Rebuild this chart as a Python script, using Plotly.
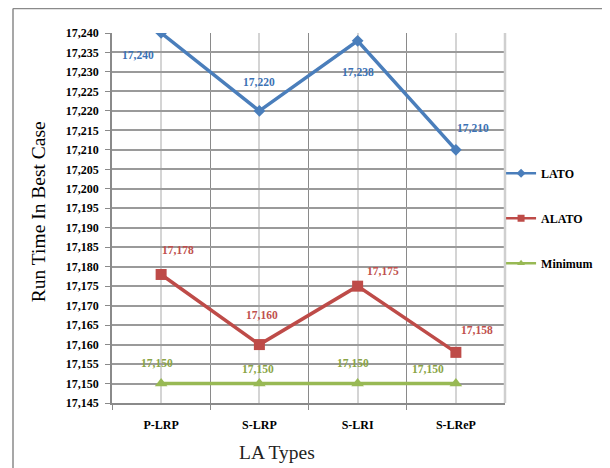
import plotly.graph_objects as go

categories = ["P-LRP", "S-LRP", "S-LRI", "S-LReP"]
lato = [17240, 17220, 17238, 17210]
alato = [17178, 17160, 17175, 17158]
minimum = [17150, 17150, 17150, 17150]
y_ticks = list(range(17145, 17241, 5))
x_title = "LA Types"
y_title = "Run Time In Best Case"

# label offsets in pixels (style only)
lato_off = [(-23, -22), (0, 29), (0, -31), (17, 22)]
alato_off = [(17, 24), (3, 30), (25, 15), (21, 22)]
min_off = [(-4, 21), (-1, 15), (-5, 21), (-28, 15)]

x = list(range(len(categories)))
FONT = "Liberation Serif"

fig = go.Figure()
series = [
    ("LATO", lato, "#4A7EBB", "diamond", 9, "#3C72B5", lato_off),
    ("ALATO", alato, "#BE4B48", "square", 11, "#C0504D", alato_off),
    ("Minimum", minimum, "#98B954", "triangle-up", 11, "#8AA445", min_off),
]
for name, vals, col, sym, ms, lcol, offs in series:
    fig.add_trace(go.Scatter(
        x=x, y=vals, name=name, mode="lines+markers", showlegend=False,
        line=dict(color=col, width=3.5),
        marker=dict(symbol=sym, size=ms, color=col),
    ))
    # legend entry with smaller symbol
    fig.add_trace(go.Scatter(
        x=[None], y=[None], name=name, mode="lines+markers",
        legendgroup=name, showlegend=True,
        line=dict(color=col, width=2.5),
        marker=dict(symbol=sym, size=7, color=col),
    ))
    for xi, v, (dx, dy) in zip(x, vals, offs):
        fig.add_annotation(
            x=xi, y=v, text=f"{v:,}", showarrow=False,
            xshift=dx, yshift=dy,
            font=dict(family=FONT, size=11.5, color=lcol, weight="bold"),
        )

# axis titles (placed as in the reference)
fig.add_annotation(
    xref="paper", yref="paper", x=0.42, y=-0.135, text=x_title,
    showarrow=False, xanchor="center", yanchor="middle",
    font=dict(family=FONT, size=19.5, color="#222"),
)
fig.add_annotation(
    xref="paper", yref="paper", x=-0.188, y=0.516, text=y_title,
    showarrow=False, xanchor="center", yanchor="middle", textangle=-90,
    font=dict(family=FONT, size=19.5, color="black"),
)

fig.update_layout(
    width=610, height=468,
    margin=dict(l=104, r=113, t=25, b=73, autoexpand=False),
    paper_bgcolor="white", plot_bgcolor="white",
    font=dict(family=FONT, color="black"),
    showlegend=True,
    legend=dict(
        x=0.99, y=0.66, xanchor="left", yanchor="top",
        font=dict(family=FONT, size=12, color="black", weight="bold"),
        tracegroupgap=26, itemsizing="trace", itemwidth=30,
        bgcolor="rgba(0,0,0,0)",
    ),
    shapes=[
        dict(type="line", xref="paper", yref="paper",
             x0=-0.2519, x1=1.3, y0=1.0662, y1=1.0662,
             line=dict(color="#8a8a8a", width=1.5)),
        dict(type="line", xref="paper", yref="paper",
             x0=-0.2519, x1=-0.2519, y0=1.0662, y1=-0.25,
             line=dict(color="#8a8a8a", width=1.5)),
        dict(type="line", xref="paper", yref="paper",
             x0=1, x1=1, y0=0, y1=1,
             line=dict(color="#cfcfcf", width=2.5)),
    ],
)

fig.update_xaxes(
    automargin=False,
    range=[-0.5, 3.5], tickvals=x, ticktext=categories,
    ticks="", showgrid=True, gridcolor="#d4d4d4", gridwidth=2,
    tickfont=dict(family=FONT, size=12, color="black", weight="bold"),
    ticklabelstandoff=10,
    showline=True, linecolor="#8a8a8a", linewidth=1.5,
    minor=dict(tickvals=[-0.5, 0.5, 1.5, 2.5], ticks="outside", ticklen=5,
               tickcolor="#8a8a8a", showgrid=True, gridcolor="#8a8a8a",
               gridwidth=1),
    zeroline=False,
)
fig.update_yaxes(
    automargin=False,
    range=[17145, 17240], tickvals=y_ticks,
    ticktext=[f"{v:,}" for v in y_ticks],
    ticks="outside", ticklen=5, tickcolor="#8a8a8a",
    ticklabelstandoff=4,
    showgrid=True, gridcolor="#9a9a9a", gridwidth=1.5,
    tickfont=dict(family=FONT, size=12, color="black", weight="bold"),
    showline=True, linecolor="#8a8a8a", linewidth=1.5,
    zeroline=False,
)

fig.write_html("out.html")
